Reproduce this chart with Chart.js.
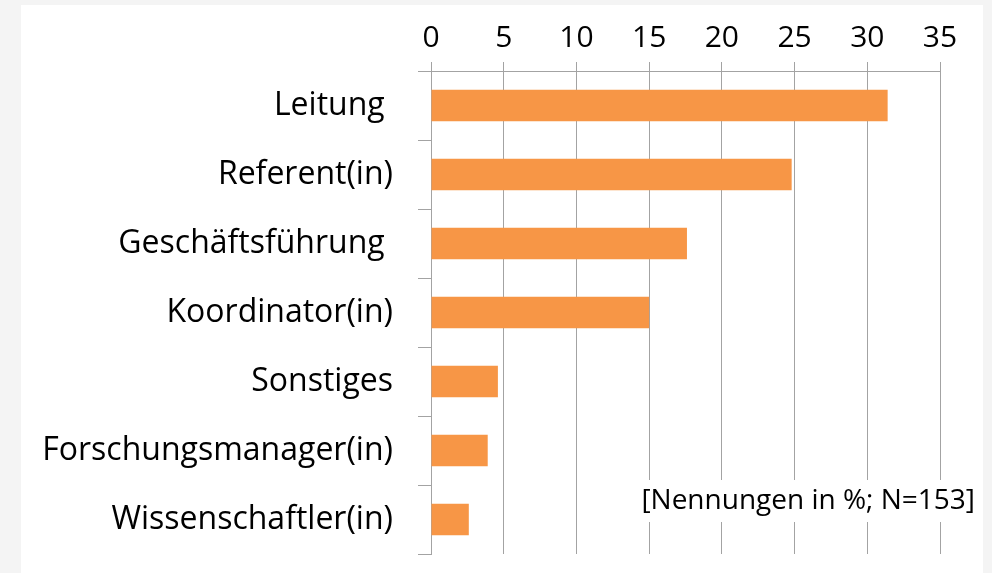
<!DOCTYPE html>
<html>
<head>
<meta charset="utf-8">
<script src="https://cdn.jsdelivr.net/npm/chart.js@4/dist/chart.umd.min.js"></script>
<style>
  html, body { margin: 0; padding: 0; background: #f4f4f4; }
  #box { position: absolute; left: 21px; top: 5px; width: 962px; height: 568px; background: #fff; }
</style>
</head>
<body>
<div id="box"><canvas id="chart" width="962" height="568"></canvas></div>
<script>
// Chart data
const categories = ['Leitung ', 'Referent(in)', 'Geschäftsführung ', 'Koordinator(in)', 'Sonstiges', 'Forschungsmanager(in)', 'Wissenschaftler(in)'];
const shares = [31.4, 24.8, 17.6, 15.0, 4.6, 3.9, 2.6];
const xTicks = [0, 5, 10, 15, 20, 25, 30, 35];
const note = '[Nennungen in %; N=153]';

const gridColor = '#a3a3a3';
const font = '"Open Sans", "Noto Sans", sans-serif';

// Draw the note box on top of the gridlines
const notePlugin = {
    id: 'note',
    afterDraw(chart) {
        const ctx = chart.ctx;
        ctx.save();
        ctx.font = '28px ' + font;
        const w = ctx.measureText(note).width;
        const right = 954;
        const y = 496;
        ctx.fillStyle = '#fff';
        ctx.fillRect(right - w - 6, y - 21, w + 12, 42);
        ctx.fillStyle = '#000';
        ctx.textAlign = 'right';
        ctx.textBaseline = 'middle';
        ctx.fillText(note, right, y);
        ctx.restore();
    }
};

new Chart(document.getElementById('chart'), {
    type: 'bar',
    data: {
        labels: categories,
        datasets: [{
            data: shares,
            backgroundColor: '#f79646',
            borderWidth: 0,
            categoryPercentage: 1,
            barPercentage: 0.46
        }]
    },
    options: {
        indexAxis: 'y',
        responsive: false,
        animation: false,
        layout: { padding: { left: 0, right: 43, top: 0, bottom: 19 } },
        plugins: { legend: { display: false }, tooltip: { enabled: false } },
        scales: {
            x: {
                position: 'top',
                min: 0,
                max: 35,
                afterBuildTicks: (scale) => { scale.ticks = xTicks.map(v => ({ value: v })); },
                afterFit: (scale) => { scale.height = 66; scale.paddingLeft = 0; scale.paddingRight = 0; },
                ticks: { color: '#000', font: { family: font, size: 30 }, padding: 6, maxRotation: 0 },
                grid: { color: gridColor, lineWidth: 1, tickLength: 9 },
                border: { color: gridColor, width: 1 }
            },
            y: {
                afterFit: (scale) => { scale.width = 410; scale.paddingTop = 0; scale.paddingBottom = 0; },
                ticks: { color: '#000', font: { family: font, size: 32 }, padding: 25 },
                grid: { drawOnChartArea: false, color: gridColor, tickLength: 13, offset: true },
                border: { color: gridColor, width: 1 }
            }
        }
    },
    plugins: [notePlugin]
});
</script>
</body>
</html>
